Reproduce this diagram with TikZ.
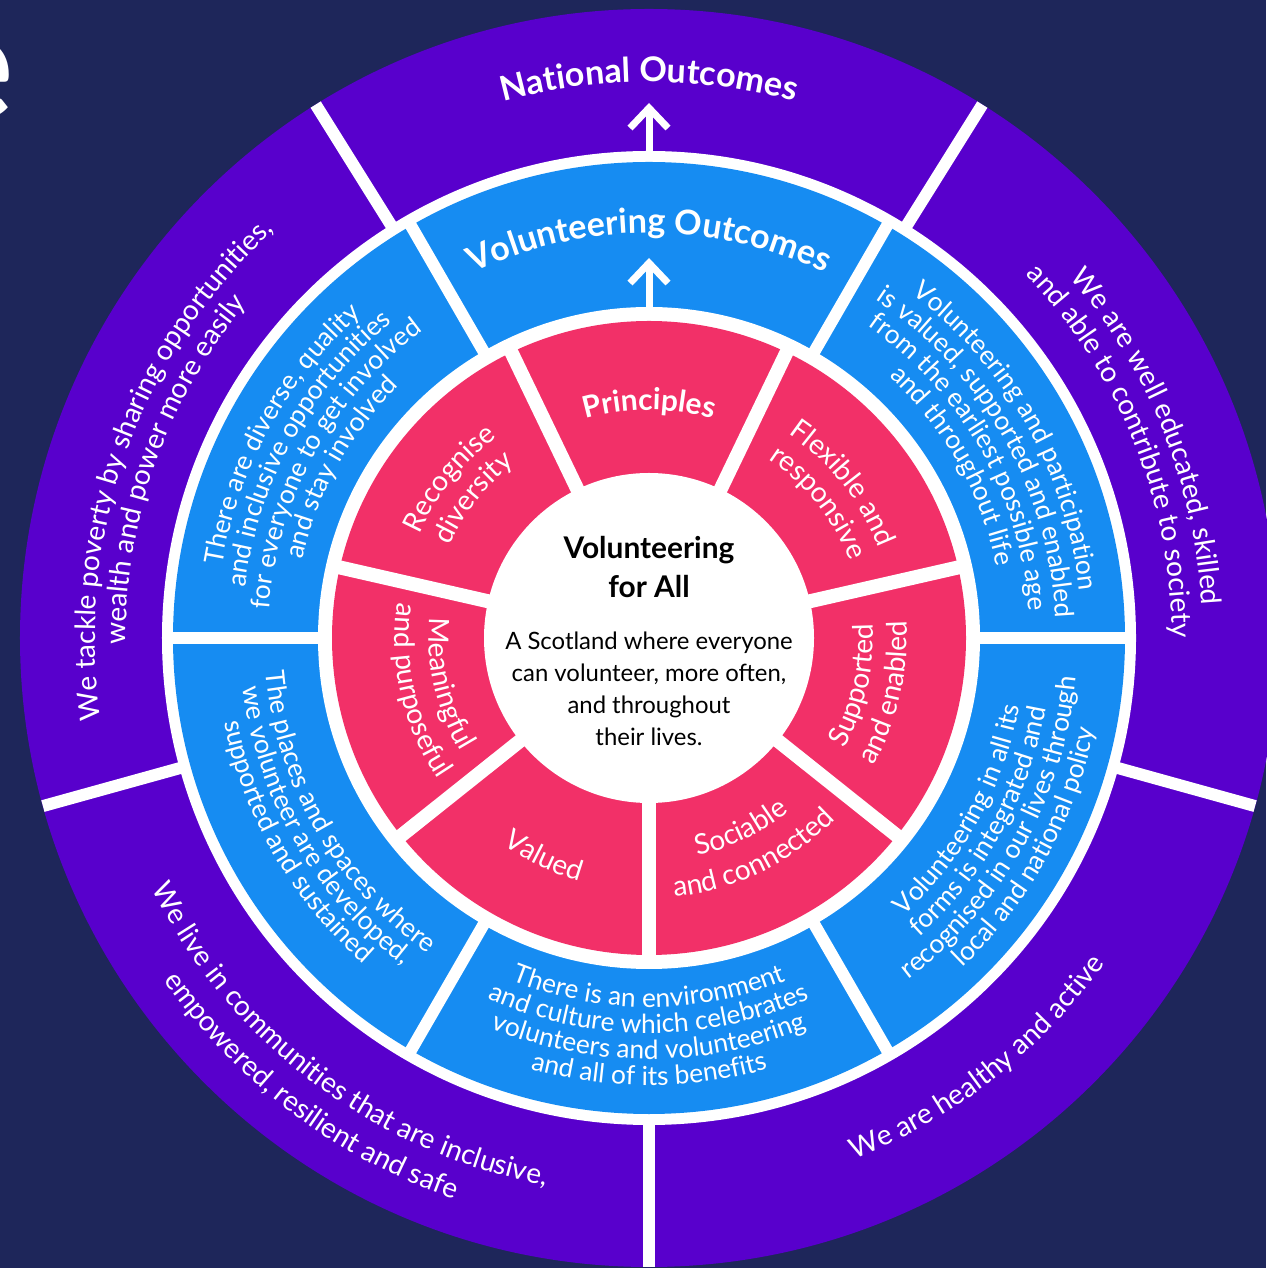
\documentclass[tikz,border=0pt]{standalone}
\usepackage{fontspec}
\setmainfont{Lato}
\usetikzlibrary{arrows.meta,decorations.text}

\definecolor{navy}{HTML}{1E265A}
\definecolor{natpurple}{HTML}{5800CC}
\definecolor{volblue}{HTML}{168CF2}
\definecolor{prinpink}{HTML}{F23068}

\newcommand{\outfont}{\fontsize{8}{9}\selectfont}
\newcommand{\midfont}{\fontsize{7.5}{8}\selectfont}
\newcommand{\pinkfont}{\fontsize{8}{9}\selectfont}
\newcommand{\headfont}{\fontsize{9.7}{10}\selectfont\bfseries}
\newcommand{\pinkhead}{\fontsize{8.5}{10}\selectfont\bfseries}

\newcommand{\cwline}[4]{\path[decorate,decoration={text along path,text color=white,text align=center,text={|#3|#4}}] ({#2+70}:#1) arc[start angle={#2+70},end angle={#2-70},radius=#1];}
\newcommand{\ccwline}[4]{\path[decorate,decoration={text along path,text color=white,text align=center,text={|#3|#4}}] ({#2-70}:#1) arc[start angle={#2-70},end angle={#2+70},radius=#1];}

\begin{document}
\begin{tikzpicture}[uparrow/.style={white,line width=0.07cm,-{Straight Barb[length=0.2cm,width=0.38cm]}}]
\useasboundingbox (-6.49,-6.30) rectangle (6.17,6.38);
\fill[navy] (-6.49,-6.30) rectangle (6.17,6.38);
\node[anchor=base east,inner sep=0,text=white,font=\fontsize{44}{44}\selectfont\bfseries] (hdr) at (-6.34,5.18) {e};
\fill[natpurple] (0,0) circle (6.29);
\fill[white] (0,0) circle (4.87);
\fill[volblue] (0,0) circle (4.76);
\fill[white] (0,0) circle (3.31);
\fill[prinpink] (0,0) circle (3.17);
\fill[white] (0,0) circle (1.65);
\foreach \a in {58,122,195.5,270,344.5} {
\draw[white,line width=0.12cm] (\a:4.8) -- (\a:6.29);
}
\foreach \a in {0,60,...,300} {
\draw[white,line width=0.12cm] (\a:3.25) -- (\a:4.8);
}
\foreach \k in {0,...,6} {
\draw[white,line width=0.14cm] ({115.714+51.4286*\k}:1.6) -- ({115.714+51.4286*\k}:3.25);
}
\coordinate (vtop) at (90:4.87);
\coordinate (ntip) at (90:5.35);
\coordinate (ptop) at (90:3.28);
\coordinate (vtip) at (90:3.80);
\draw[uparrow] (vtop) -- (ntip);
\draw[uparrow] (ptop) -- (vtip);
\cwline{5.56}{90}{\headfont}{National Outcomes}
\cwline{4.05}{90}{\headfont}{Volunteering Outcomes}
\cwline{2.28}{90}{\pinkhead}{Principles}
\cwline{5.54}{160.5}{\outfont}{We tackle poverty by sharing opportunities,}
\cwline{5.23}{160.5}{\outfont}{wealth and power more easily}
\cwline{5.54}{22}{\outfont}{We are well educated, skilled}
\cwline{5.23}{22}{\outfont}{and able to contribute to society}
\ccwline{5.57}{233}{\outfont}{We live in communities that are inclusive,}
\ccwline{5.94}{233}{\outfont}{empowered, resilient and safe}
\ccwline{5.60}{308}{\outfont}{We are healthy and active}
\cwline{4.33}{151}{\midfont}{There are diverse, quality}
\cwline{4.07}{151}{\midfont}{and inclusive opportunities}
\cwline{3.81}{151}{\midfont}{for everyone to get involved}
\cwline{3.55}{151}{\midfont}{and stay involved}
\cwline{4.33}{29.5}{\midfont}{Volunteering and participation}
\cwline{4.07}{29.5}{\midfont}{is valued, supported and enabled}
\cwline{3.81}{29.5}{\midfont}{from the earliest possible age}
\cwline{3.55}{29.5}{\midfont}{and throughout life}
\ccwline{3.85}{210}{\midfont}{The places and spaces where}
\ccwline{4.09}{210}{\midfont}{we volunteer are developed,}
\ccwline{4.33}{210}{\midfont}{supported and sustained}
\ccwline{3.69}{270}{\midfont}{There is an environment}
\ccwline{3.95}{270}{\midfont}{and culture which celebrates}
\ccwline{4.21}{270}{\midfont}{volunteers and volunteering}
\ccwline{4.47}{270}{\midfont}{and all of its benefits}
\ccwline{3.77}{331}{\midfont}{Volunteering in all its}
\ccwline{4.03}{331}{\midfont}{forms is integrated and}
\ccwline{4.29}{331}{\midfont}{recognised in our lives through}
\ccwline{4.55}{331}{\midfont}{local and national policy}
\cwline{2.47}{38.6}{\pinkfont}{Flexible and}
\cwline{2.15}{38.6}{\pinkfont}{responsive}
\cwline{2.52}{141.4}{\pinkfont}{Recognise}
\cwline{2.20}{141.4}{\pinkfont}{diversity}
\ccwline{2.20}{192.9}{\pinkfont}{Meaningful}
\ccwline{2.54}{192.9}{\pinkfont}{and purposeful}
\ccwline{2.53}{244.3}{\pinkfont}{Valued}
\ccwline{2.23}{295.7}{\pinkfont}{Sociable}
\ccwline{2.60}{295.7}{\pinkfont}{and connected}
\ccwline{2.24}{347.1}{\pinkfont}{Supported}
\ccwline{2.58}{347.1}{\pinkfont}{and enabled}
\node[font=\fontsize{8.5}{11}\selectfont\bfseries,align=center,text=black] (vfa) at (0,0.71) {Volunteering\\for All};
\node[font=\fontsize{6.8}{9.1}\selectfont,align=center,text=black] (scot) at (0,-0.51) {A Scotland where everyone\\can volunteer, more often,\\and throughout\\their lives.};
\end{tikzpicture}
\end{document}
